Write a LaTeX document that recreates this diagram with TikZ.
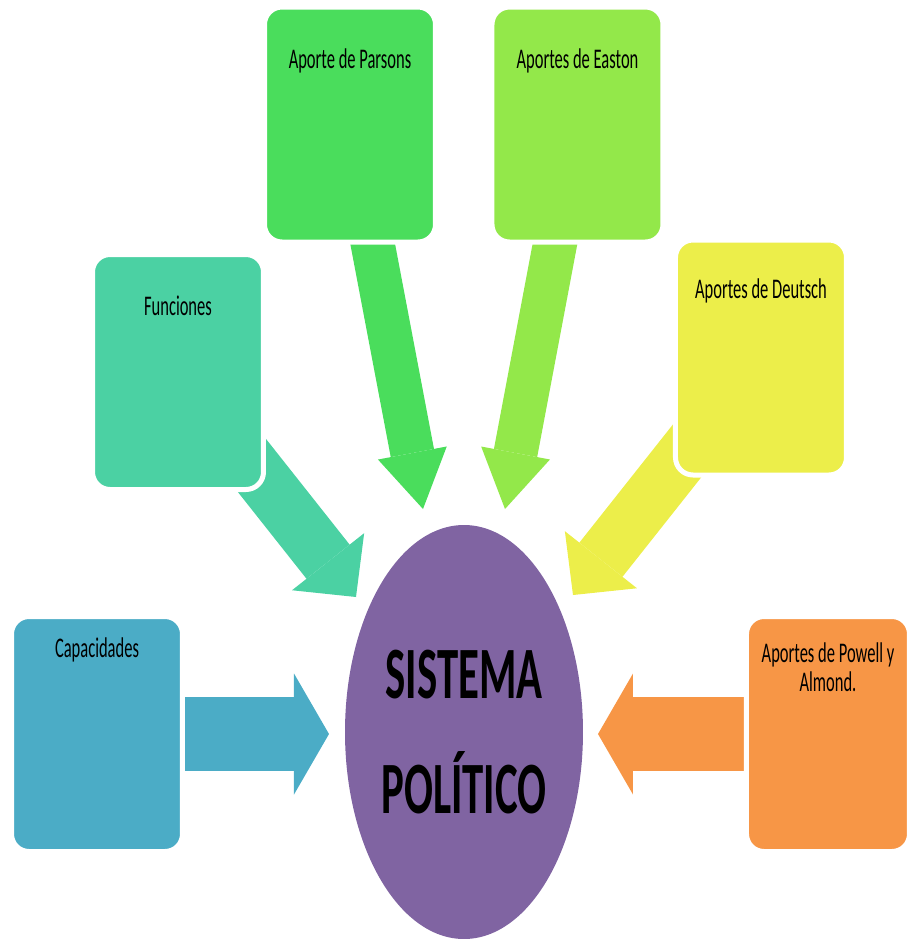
\documentclass[tikz,border=0pt]{standalone}
\usepackage{fontspec}
\setmainfont{Carlito}
\newfontfamily\angosta{Carlito}[FakeStretch=0.58]
\usetikzlibrary{arrows.meta,shapes.geometric,backgrounds}

\definecolor{cCap}{HTML}{4BACC6}
\definecolor{cFun}{HTML}{4BD1A3}
\definecolor{cPar}{HTML}{4ADD5C}
\definecolor{cEas}{HTML}{93E84A}
\definecolor{cDeu}{HTML}{ECEE4A}
\definecolor{cPow}{HTML}{F79646}
\definecolor{cSis}{HTML}{8064A2}

\tikzset{
  caja/.style={rectangle, rounded corners=1.75mm, draw=white, line width=0.5mm,
    outer sep=0pt, inner sep=0pt, minimum width=17.1mm, minimum height=23.5mm},
  rotulo/.style={font=\angosta\fontsize{8.1}{8.25}\selectfont, inner sep=0pt,
    anchor=base, align=center, text=black},
  flecha/.style n args={3}{line width=#1, -{Triangle[width=#2, length=#3, line width=0pt]}},
}

\begin{document}
\begin{tikzpicture}[x=0.1mm, y=-0.1mm]
  \useasboundingbox (0,0) rectangle (908,939);

  % cajas
  \node[caja, fill=cCap, label={[rotulo, yshift=-4.05mm]north:Capacidades}] (cap) at (97,734) {};
  \node[caja, fill=cFun, label={[rotulo, yshift=-6.05mm]north:Funciones}] (fun) at (178,372) {};
  \node[caja, fill=cPar, label={[rotulo, yshift=-6.15mm]north:Aporte de Parsons}] (par) at (350,124.5) {};
  \node[caja, fill=cEas, label={[rotulo, yshift=-6.15mm]north:Aportes de Easton}] (eas) at (577.5,124.5) {};
  \node[caja, fill=cDeu, label={[rotulo, yshift=-5.85mm]north:Aportes de Deutsch}] (deu) at (761,357.5) {};
  \node[caja, fill=cPow, minimum width=16.3mm,
    label={[rotulo, yshift=-7.45mm]north:Aportes de Powell y\\Almond.}] (pow) at (828,734) {};

  % centro
  \node[ellipse, fill=cSis, minimum width=23.8mm, minimum height=41.4mm, inner sep=0pt,
    align=center, font=\angosta\bfseries\fontsize{21}{32.7}\selectfont] (sis) at (464,732)
    {SISTEMA\\POLÍTICO};

  % puntas de flecha
  \coordinate (pCap) at (329,734);
  \coordinate (pFun) at (356,597);
  \coordinate (pPar) at (423,509);
  \coordinate (pEas) at (505,509);
  \coordinate (pDeu) at (573,595);
  \coordinate (pPow) at (598,734);

  \begin{scope}[on background layer]
    \draw[cCap, flecha={7.4mm}{12.1mm}{3.5mm}] (cap.center) -- (pCap);
    \draw[cFun, flecha={5.5mm}{9.2mm}{4.5mm}] (fun.center) -- (pFun);
    \draw[cPar, flecha={4.4mm}{7mm}{5.7mm}] (par.center) -- (pPar);
    \draw[cEas, flecha={4.4mm}{7mm}{5.7mm}] (eas.center) -- (pEas);
    \draw[cDeu, flecha={5.5mm}{9.2mm}{4.5mm}] (deu.center) -- (pDeu);
    \draw[cPow, flecha={7.4mm}{12.1mm}{3.5mm}] (pow.center) -- (pPow);
  \end{scope}
\end{tikzpicture}
\end{document}
